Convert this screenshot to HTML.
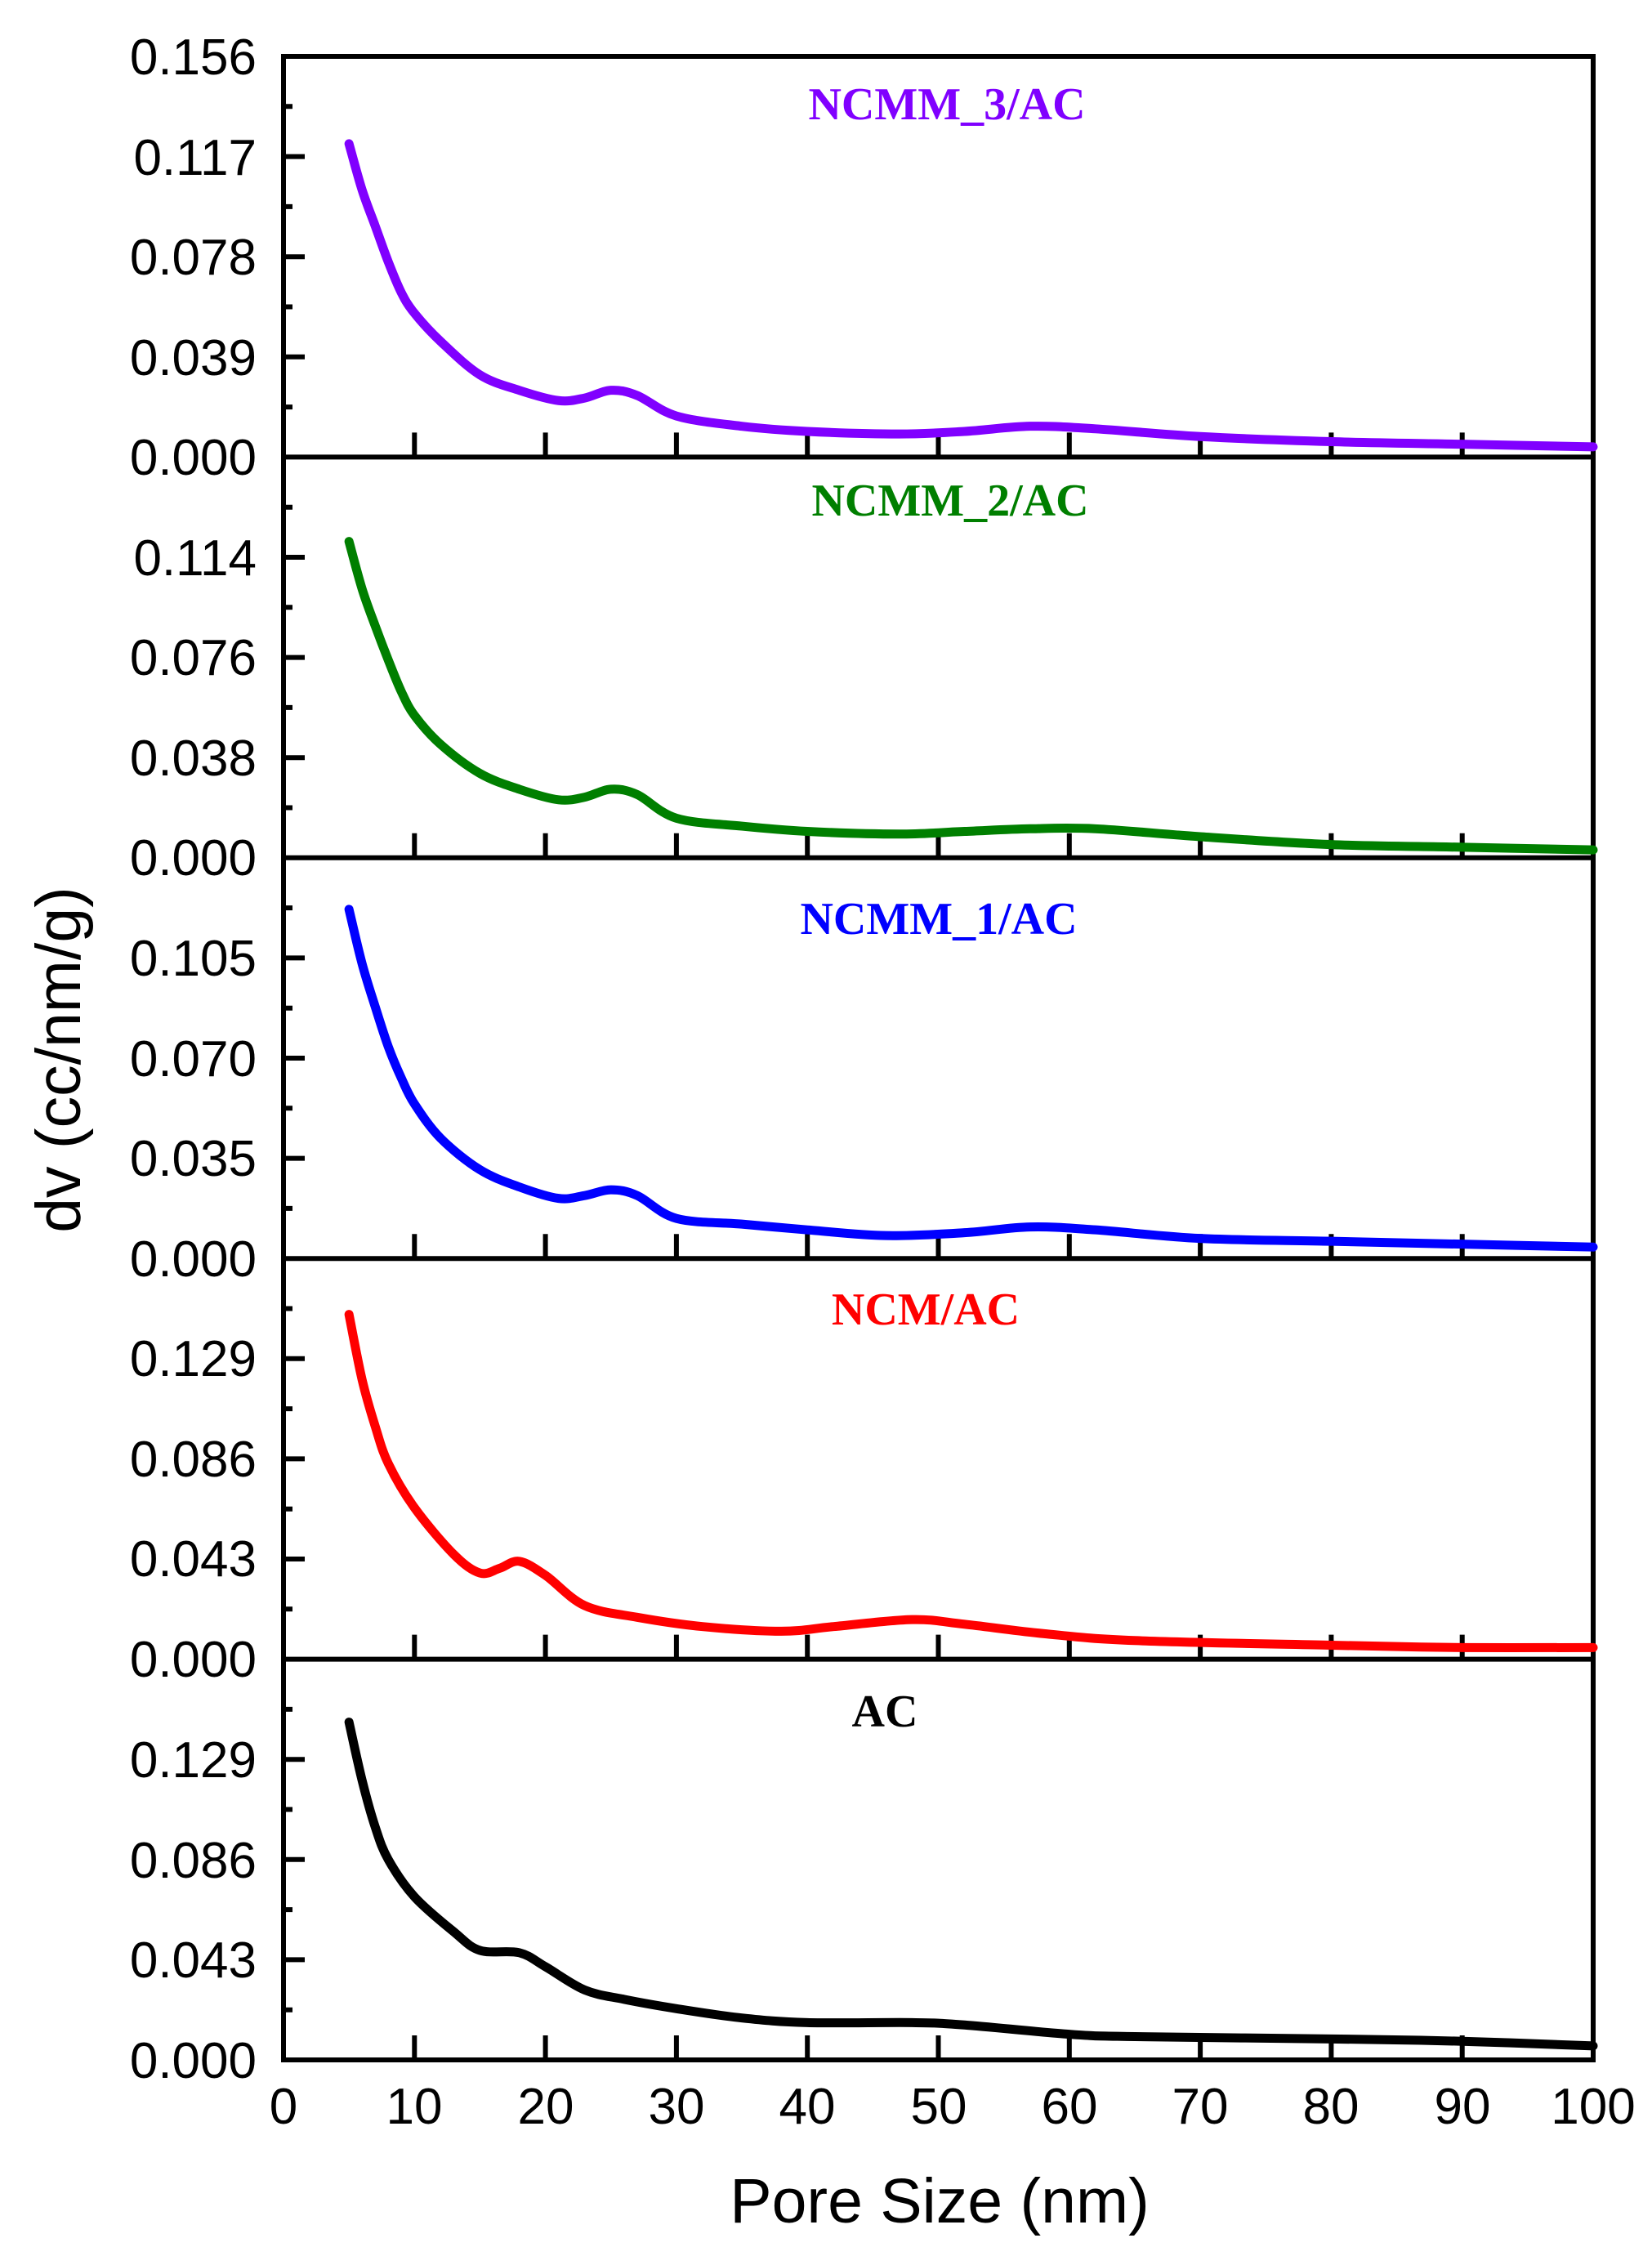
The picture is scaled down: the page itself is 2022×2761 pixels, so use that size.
<!DOCTYPE html>
<html><head><meta charset="utf-8"><style>
html,body{margin:0;padding:0;background:#fff}
svg{display:block}
.t{font-family:"Liberation Sans",Arial,sans-serif;font-size:62px;fill:#000}
.l{font-family:"Liberation Serif","Times New Roman",serif;font-size:56px;font-weight:bold}
</style></head><body>
<svg id="s" width="2022" height="2761" viewBox="0 0 2022 2761" xmlns="http://www.w3.org/2000/svg">
<path fill="none" stroke="#000" stroke-width="6" d="
M347,66 V2524 M1950,66 V2524
M347,69 H1950 M347,559.4 H1950 M347,1049.8 H1950 M347,1540.2 H1950 M347,2030.6 H1950 M347,2521 H1950
M347,498.1 h11 m-11,-61.3 h26 m-26,-61.3 h11 m-11,-61.3 h26 m-26,-61.3 h11 m-11,-61.3 h26 m-26,-61.3 h11
M347,988.5 h11 m-11,-61.3 h26 m-26,-61.3 h11 m-11,-61.3 h26 m-26,-61.3 h11 m-11,-61.3 h26 m-26,-61.3 h11
M347,1478.9 h11 m-11,-61.3 h26 m-26,-61.3 h11 m-11,-61.3 h26 m-26,-61.3 h11 m-11,-61.3 h26 m-26,-61.3 h11
M347,1969.3 h11 m-11,-61.3 h26 m-26,-61.3 h11 m-11,-61.3 h26 m-26,-61.3 h11 m-11,-61.3 h26 m-26,-61.3 h11
M347,2459.7 h11 m-11,-61.3 h26 m-26,-61.3 h11 m-11,-61.3 h26 m-26,-61.3 h11 m-11,-61.3 h26 m-26,-61.3 h11
M507.3,559.4 v-30 m160.3,30 v-30 m160.3,30 v-30 m160.3,30 v-30 m160.3,30 v-30 m160.3,30 v-30 m160.3,30 v-30 m160.3,30 v-30 m160.3,30 v-30
M507.3,1049.8 v-30 m160.3,30 v-30 m160.3,30 v-30 m160.3,30 v-30 m160.3,30 v-30 m160.3,30 v-30 m160.3,30 v-30 m160.3,30 v-30 m160.3,30 v-30
M507.3,1540.2 v-30 m160.3,30 v-30 m160.3,30 v-30 m160.3,30 v-30 m160.3,30 v-30 m160.3,30 v-30 m160.3,30 v-30 m160.3,30 v-30 m160.3,30 v-30
M507.3,2030.6 v-30 m160.3,30 v-30 m160.3,30 v-30 m160.3,30 v-30 m160.3,30 v-30 m160.3,30 v-30 m160.3,30 v-30 m160.3,30 v-30 m160.3,30 v-30
M507.3,2521 v-30 m160.3,30 v-30 m160.3,30 v-30 m160.3,30 v-30 m160.3,30 v-30 m160.3,30 v-30 m160.3,30 v-30 m160.3,30 v-30 m160.3,30 v-30
"/>
<g id="curves" fill="none" stroke-width="11" stroke-linejoin="round" stroke-linecap="round"></g>
<g class="t" text-anchor="end">
<text x="314" y="91">0.156</text><text x="314" y="214">0.117</text><text x="314" y="336">0.078</text><text x="314" y="459">0.039</text><text x="314" y="581">0.000</text>
<text x="314" y="704">0.114</text><text x="314" y="826">0.076</text><text x="314" y="949">0.038</text><text x="314" y="1071">0.000</text>
<text x="314" y="1194">0.105</text><text x="314" y="1317">0.070</text><text x="314" y="1439">0.035</text><text x="314" y="1562">0.000</text>
<text x="314" y="1684">0.129</text><text x="314" y="1807">0.086</text><text x="314" y="1929">0.043</text><text x="314" y="2052">0.000</text>
<text x="314" y="2175">0.129</text><text x="314" y="2298">0.086</text><text x="314" y="2420">0.043</text><text x="314" y="2543">0.000</text>
</g>
<g class="t" text-anchor="middle">
<text x="347" y="2599">0</text><text x="507" y="2599">10</text><text x="668" y="2599">20</text><text x="828" y="2599">30</text><text x="988" y="2599">40</text><text x="1149" y="2599">50</text><text x="1309" y="2599">60</text><text x="1469" y="2599">70</text><text x="1629" y="2599">80</text><text x="1790" y="2599">90</text><text x="1950" y="2599">100</text>
</g>
<text x="1150" y="2720" text-anchor="middle" style="font-family:'Liberation Sans',Arial,sans-serif;font-size:77px">Pore Size (nm)</text>
<text transform="translate(98,1297) rotate(-90)" text-anchor="middle" style="font-family:'Liberation Sans',Arial,sans-serif;font-size:77px">dv (cc/nm/g)</text>
<g class="l" text-anchor="middle">
<text x="1159" y="146" fill="#8000ff">NCMM_3/AC</text>
<text x="1163" y="631" fill="#007f00">NCMM_2/AC</text>
<text x="1149" y="1143" fill="#0000ff">NCMM_1/AC</text>
<text x="1133" y="1621" fill="#ff0000">NCM/AC</text>
<text x="1083" y="2113" fill="#000">AC</text>
</g>
</svg>
<script>
var NS="http://www.w3.org/2000/svg";
var L=347,R=1950,T=69,H=490.4;
var cv=document.getElementById('curves');
var data=[
 ['#8000ff',.156,[[5,.122],[6,.104],[7,.09],[8,.076],[9,.064],[10,.056],[12,.045],[15,.032],[18,.026],[21,.022],[23,.023],[25,.026],[27,.024],[30,.016],[35,.012],[40,.010],[47,.009],[52,.010],[57,.012],[62,.011],[70,.008],[80,.006],[90,.005],[100,.004]]],
 ['#007f00',.152,[[5,.12],[6,.102],[7,.088],[8,.075],[9,.063],[10,.054],[12,.043],[15,.032],[18,.026],[21,.022],[23,.023],[25,.026],[27,.024],[30,.015],[35,.012],[40,.010],[47,.009],[52,.010],[57,.011],[62,.011],[70,.008],[80,.005],[90,.004],[100,.003]]],
 ['#0000ff',.14,[[5,.122],[6,.103],[7,.088],[8,.074],[9,.063],[10,.054],[12,.042],[15,.031],[18,.025],[21,.021],[23,.022],[25,.024],[27,.022],[30,.014],[35,.012],[40,.010],[46,.008],[52,.009],[57,.011],[62,.010],[70,.007],[80,.006],[90,.005],[100,.004]]],
 ['#ff0000',.172,[[5,.148],[6,.12],[7,.1],[8,.084],[10,.065],[13,.045],[15,.037],[16.5,.039],[18,.042],[20,.036],[23,.023],[27,.018],[32,.014],[38,.012],[42,.014],[48,.017],[52,.015],[58,.011],[65,.008],[80,.006],[90,.005],[100,.005]]],
 ['#000000',.172,[[5,.145],[6,.12],[7,.1],[8,.086],[10,.07],[13,.055],[15,.047],[18,.046],[20,.04],[23,.03],[26,.026],[30,.022],[35,.018],[40,.016],[48,.016],[52,.015],[60,.011],[65,.010],[80,.009],[90,.008],[100,.006]]]
];
data.forEach(function(d,i){var b=T+(i+1)*H;
 var p=d[2].map(function(q){return [L+(R-L)*q[0]/100,b-q[1]/d[1]*H];});
 var s='M'+p[0][0]+','+p[0][1];
 for(var k=0;k<p.length-1;k++){var p0=p[k-1]||p[k],p1=p[k],p2=p[k+1],p3=p[k+2]||p2;
  s+=' C'+(p1[0]+(p2[0]-p0[0])/6)+','+(p1[1]+(p2[1]-p0[1])/6)+' '+(p2[0]-(p3[0]-p1[0])/6)+','+(p2[1]-(p3[1]-p1[1])/6)+' '+p2[0]+','+p2[1];}
 var e=document.createElementNS(NS,'path');e.setAttribute('d',s);e.setAttribute('stroke',d[0]);cv.appendChild(e);
});
</script>
</body></html>
